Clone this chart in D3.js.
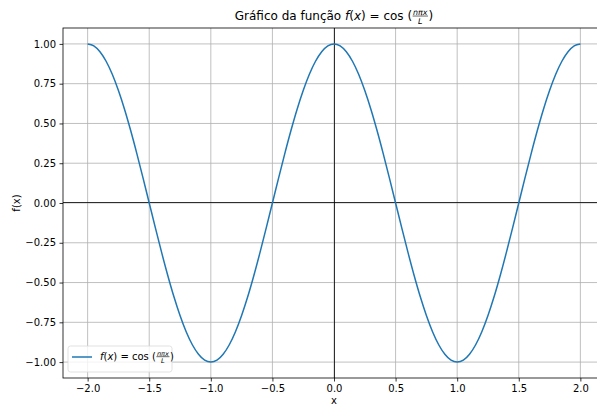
<!DOCTYPE html>
<html>
<head>
<meta charset="utf-8">
<script src="https://cdn.jsdelivr.net/npm/d3@7"></script>
<style>
  body { margin: 0; background: #fff; }
  svg { font-family: "DejaVu Sans", sans-serif; }
  svg text { white-space: pre; }
</style>
</head>
<body>
<svg id="chart" width="597" height="408"></svg>
<script>
var xs = [-2.00, -1.95, -1.90, -1.85, -1.80, -1.75, -1.70, -1.65, -1.60, -1.55,
          -1.50, -1.45, -1.40, -1.35, -1.30, -1.25, -1.20, -1.15, -1.10, -1.05,
          -1.00, -0.95, -0.90, -0.85, -0.80, -0.75, -0.70, -0.65, -0.60, -0.55,
          -0.50, -0.45, -0.40, -0.35, -0.30, -0.25, -0.20, -0.15, -0.10, -0.05,
           0.00,  0.05,  0.10,  0.15,  0.20,  0.25,  0.30,  0.35,  0.40,  0.45,
           0.50,  0.55,  0.60,  0.65,  0.70,  0.75,  0.80,  0.85,  0.90,  0.95,
           1.00,  1.05,  1.10,  1.15,  1.20,  1.25,  1.30,  1.35,  1.40,  1.45,
           1.50,  1.55,  1.60,  1.65,  1.70,  1.75,  1.80,  1.85,  1.90,  1.95, 2.00];
var ys = [ 1.000,  0.988,  0.951,  0.891,  0.809,  0.707,  0.588,  0.454,  0.309,  0.156,
           0.000, -0.156, -0.309, -0.454, -0.588, -0.707, -0.809, -0.891, -0.951, -0.988,
          -1.000, -0.988, -0.951, -0.891, -0.809, -0.707, -0.588, -0.454, -0.309, -0.156,
           0.000,  0.156,  0.309,  0.454,  0.588,  0.707,  0.809,  0.891,  0.951,  0.988,
           1.000,  0.988,  0.951,  0.891,  0.809,  0.707,  0.588,  0.454,  0.309,  0.156,
           0.000, -0.156, -0.309, -0.454, -0.588, -0.707, -0.809, -0.891, -0.951, -0.988,
          -1.000, -0.988, -0.951, -0.891, -0.809, -0.707, -0.588, -0.454, -0.309, -0.156,
           0.000,  0.156,  0.309,  0.454,  0.588,  0.707,  0.809,  0.891,  0.951,  0.988, 1.000];
var xTicks = [-2.0, -1.5, -1.0, -0.5, 0.0, 0.5, 1.0, 1.5, 2.0];
var yTicks = [-1.00, -0.75, -0.50, -0.25, 0.00, 0.25, 0.50, 0.75, 1.00];

var svg = d3.select("#chart");
var pLeft = 63, pRight = 605, pTop = 28, pBottom = 378;

var x = d3.scaleLinear().domain([-2.2, 2.2]).range([pLeft, pRight]);
var y = d3.scaleLinear().domain([-1.1, 1.1]).range([pBottom, pTop]);

var plot = svg.append("g");
svg.append("clipPath").attr("id", "clip")
  .append("rect").attr("x", pLeft).attr("y", pTop)
  .attr("width", pRight - pLeft).attr("height", pBottom - pTop);

// grid
plot.selectAll(".gx").data(xTicks).enter().append("line")
  .attr("x1", function(d){ return x(d); }).attr("x2", function(d){ return x(d); })
  .attr("y1", pTop).attr("y2", pBottom)
  .attr("stroke", "#b0b0b0").attr("stroke-width", 0.8);
plot.selectAll(".gy").data(yTicks).enter().append("line")
  .attr("y1", function(d){ return y(d); }).attr("y2", function(d){ return y(d); })
  .attr("x1", pLeft).attr("x2", pRight)
  .attr("stroke", "#b0b0b0").attr("stroke-width", 0.8);

// zero lines
plot.append("line").attr("x1", pLeft).attr("x2", pRight)
  .attr("y1", y(0) - 0.5).attr("y2", y(0) - 0.5)
  .attr("stroke", "#000").attr("stroke-width", 0.8);
plot.append("line").attr("x1", x(0) + 0.5).attr("x2", x(0) + 0.5)
  .attr("y1", pTop).attr("y2", pBottom)
  .attr("stroke", "#000").attr("stroke-width", 0.8);

// curve
var pts = xs.map(function(d, i){ return [d, ys[i]]; });
var line = d3.line()
  .x(function(d){ return x(d[0]); })
  .y(function(d){ return y(d[1]); })
  .curve(d3.curveMonotoneX);
plot.append("path").datum(pts)
  .attr("d", line).attr("fill", "none")
  .attr("stroke", "#1f77b4").attr("stroke-width", 1.5)
  .attr("clip-path", "url(#clip)");

// axes
var xAxis = d3.axisBottom(x).tickValues(xTicks).tickSize(3.5).tickPadding(3.5)
  .tickFormat(function(d){ return d3.format(".1f")(d).replace("-", "\u2212"); });
var yAxis = d3.axisLeft(y).tickValues(yTicks).tickSize(3.5).tickPadding(3.5)
  .tickFormat(function(d){ return d3.format(".2f")(d).replace("-", "\u2212"); });

var gx = svg.append("g").attr("transform", "translate(0," + pBottom + ")").call(xAxis);
var gy = svg.append("g").attr("transform", "translate(" + pLeft + ",0)").call(yAxis);
[gx, gy].forEach(function(g){
  g.select(".domain").remove();
  g.selectAll("line").attr("stroke", "#000").attr("stroke-width", 0.8);
  g.selectAll("text").attr("font-size", 10).attr("fill", "#000")
    .attr("font-family", "DejaVu Sans");
});

// spines
svg.append("rect").attr("x", pLeft).attr("y", pTop)
  .attr("width", pRight - pLeft).attr("height", pBottom - pTop)
  .attr("fill", "none").attr("stroke", "#000").attr("stroke-width", 0.8);

// axis labels
svg.append("text").attr("x", (pLeft + pRight) / 2).attr("y", 404)
  .attr("text-anchor", "middle").attr("font-size", 10).text("x");
svg.append("text").attr("transform", "translate(20," + y(0) + ") rotate(-90)")
  .attr("text-anchor", "middle").attr("font-size", 10).text("f(x)");

// formula: f(x) = cos (nπx / L)
function formula(g, size) {
  var t = g.append("text").attr("font-size", size);
  t.append("tspan").attr("font-style", "italic").text("f");
  t.append("tspan").text("(");
  t.append("tspan").attr("font-style", "italic").text("x");
  t.append("tspan").text(") = cos (");
  var w = t.node().getComputedTextLength();
  var fs = size * 0.66;
  var num = g.append("text").attr("font-size", fs).attr("font-style", "italic")
    .attr("y", -size * 0.45).text("n\u03c0x");
  var nw = num.node().getComputedTextLength();
  num.attr("x", w + 1);
  g.append("line").attr("x1", w + 0.5).attr("x2", w + nw + 1.5)
    .attr("y1", -size * 0.33).attr("y2", -size * 0.33)
    .attr("stroke", "#000").attr("stroke-width", 0.6);
  g.append("text").attr("font-size", fs).attr("font-style", "italic")
    .attr("x", w + 1 + nw / 2).attr("y", size * 0.32)
    .attr("text-anchor", "middle").text("L");
  var close = g.append("text").attr("font-size", size).attr("x", w + nw + 2).text(")");
  return w + nw + 2 + close.node().getComputedTextLength();
}

// title
var title = svg.append("g");
var tt = title.append("text").attr("font-size", 12).text("Gráfico da função ");
var tw = tt.node().getComputedTextLength();
var fg = title.append("g").attr("transform", "translate(" + tw + ",0)");
var fw = formula(fg, 12);
title.attr("transform", "translate(" + ((pLeft + pRight) / 2 - (tw + fw) / 2) + ",20)");

// legend
var leg = svg.append("g");
leg.append("rect").attr("x", 68).attr("y", 346).attr("width", 104).attr("height", 26)
  .attr("rx", 2.5).attr("fill", "#fff").attr("fill-opacity", 0.8)
  .attr("stroke", "#d9d9d9").attr("stroke-width", 0.8);
leg.append("line").attr("x1", 72).attr("x2", 92).attr("y1", 357).attr("y2", 357)
  .attr("stroke", "#1f77b4").attr("stroke-width", 1.5);
var lf = leg.append("g").attr("transform", "translate(100,360)");
formula(lf, 10);
</script>
</body>
</html>
